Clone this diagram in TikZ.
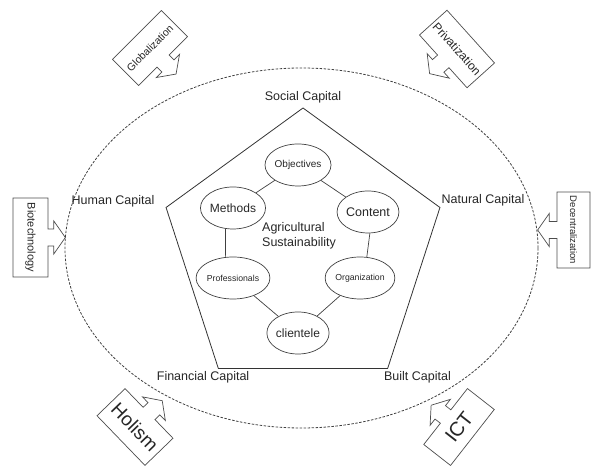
\documentclass[tikz,border=0pt]{standalone}
\usepackage{fontspec}
\setmainfont{Liberation Sans}
\usetikzlibrary{positioning,shapes.geometric,shapes.arrows}

\begin{document}
\begin{tikzpicture}[
    x=1pt, y=1pt,
    % Capital labels round the pentagon
    capital/.style={
        text=black!85,
        font=\fontsize{12.5}{14}\selectfont,
        inner sep=0pt
    },
    % Ellipses of the inner ring
    ringitem/.style={
        ellipse,
        draw=black!75,
        line width=0.7pt,
        text=black!85,
        inner sep=0pt,
        minimum width=60pt,
        minimum height=42pt
    },
    % Outside forces: a box with one arrow
    force/.style={
        arrow box,
        draw=black!70,
        line width=0.7pt,
        text=black!85,
        inner sep=1pt,
        arrow box shaft width=17pt,
        arrow box head extend=8pt,
        arrow box tip angle=110,
        arrow box arrows={north:-1pt, south:-1pt, east:-1pt, west:-1pt}
    },
    % Plain ring connector
    link/.style={
        draw=black!75,
        line width=0.7pt
    }
]
\useasboundingbox (0,0) rectangle (591,470);

% --- Outer dashed boundary ---
\node[ellipse, draw=black!75, line width=0.8pt, dash pattern=on 2.5pt off 1.5pt,
      inner sep=0pt, minimum width=473pt, minimum height=360pt] (field) at (301.5,222) {};

% --- Pentagon of capitals ---
\node[regular polygon, regular polygon sides=5, draw=black!80, line width=0.8pt,
      inner sep=0pt, minimum size=288pt] (pent) at (303,218) {};

\node[capital, anchor=south] (social) at ([yshift=4pt]pent.corner 1) {Social Capital};
\node[capital, anchor=south west] (natural) at ([xshift=1pt, yshift=1pt]pent.corner 5) {Natural Capital};
\node[capital, anchor=south east] (human) at ([xshift=-11pt]pent.corner 2) {Human Capital};
\node[capital, anchor=north] (financial) at ([xshift=-15pt, yshift=-2pt]pent.corner 3) {Financial Capital};
\node[capital, anchor=north west] (built) at ([xshift=-4pt, yshift=-2pt]pent.corner 4) {Built Capital};

% --- Inner ring ---
\node[ringitem, font=\fontsize{10}{12}\selectfont] (objectives) at (298,305) {Objectives};
\node[ringitem, font=\fontsize{12}{14}\selectfont] (methods) at (233,262) {Methods};
\node[ringitem, font=\fontsize{12.5}{14}\selectfont] (content) at (368,258) {Content};
\node[ringitem, font=\fontsize{8.7}{10}\selectfont] (professionals) at (233,192) {Professionals};
\node[ringitem, font=\fontsize{8.7}{10}\selectfont] (organization) at (360,192) {Organization};
\node[ringitem, font=\fontsize{12}{14}\selectfont] (clientele) at (298,137) {clientele};

\node[text=black!85, align=left, font=\fontsize{12.5}{15}\selectfont] (agri) at (299,234.5)
    {Agricultural\\Sustainability};

\draw[link] (objectives) -- (methods);
\draw[link] (objectives) -- (content);
\draw[link] (methods.250) -- (professionals.110);
\draw[link] (content.275) -- (organization.72);
\draw[link] (professionals) -- (clientele);
\draw[link] (organization) -- (clientele);

% --- Outside forces ---
\node[force, rotate=45, minimum width=69pt, minimum height=37pt,
      font=\fontsize{10.5}{12}\selectfont, arrow box arrows={south:18pt}] (globalization) at (150,422) {Globalization};
\node[force, rotate=-48, minimum width=71pt, minimum height=37pt,
      font=\fontsize{12}{14}\selectfont, arrow box arrows={south:18pt}] (privatization) at (457,421) {Privatization};
\node[force, rotate=-90, minimum width=79pt, minimum height=35pt,
      font=\fontsize{11}{13}\selectfont, arrow box arrows={north:17pt}] (biotech) at (30.5,232.5) {Biotechnology};
\node[force, rotate=-90, minimum width=76pt, minimum height=33pt,
      font=\fontsize{9.5}{11}\selectfont, arrow box arrows={south:19pt}] (decentral) at (573.5,240) {Decentralization};
\node[force, rotate=-46, minimum width=69pt, minimum height=39pt,
      font=\fontsize{19}{21}\selectfont, arrow box arrows={north:18pt}] (holism) at (135,43) {Holism};
\node[force, rotate=52, minimum width=71pt, minimum height=34pt,
      font=\fontsize{20}{22}\selectfont, arrow box arrows={north:18pt}] (ict) at (459,43) {ICT};

\end{tikzpicture}
\end{document}
